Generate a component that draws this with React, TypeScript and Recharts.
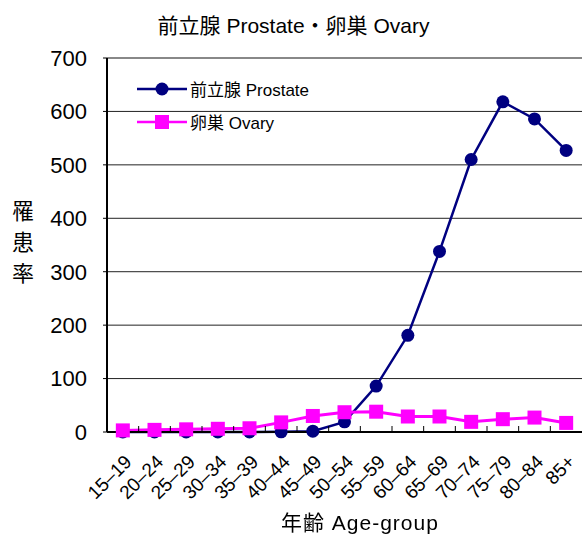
import React from "react";
import {
  LineChart,
  Line,
  XAxis,
  YAxis,
  CartesianGrid,
  ReferenceLine,
} from "recharts";

const ageGroups = [
  "15–19", "20–24", "25–29", "30–34", "35–39", "40–44", "45–49", "50–54",
  "55–59", "60–64", "65–69", "70–74", "75–79", "80–84", "85+",
];
const prostate = [0, 0, 0, 0, 0, 0.3, 1.5, 19, 86, 181, 338, 510, 618, 586, 527];
const ovary = [3, 4, 5, 6, 7, 18, 30, 37, 38, 29, 29, 19, 24, 27, 17];
const yTicks = [0, 100, 200, 300, 400, 500, 600, 700];

const data = ageGroups.map((age, i) => ({ age, prostate: prostate[i], ovary: ovary[i] }));

const FONT = "'Liberation Sans', 'Noto Sans CJK JP', sans-serif";
const NAVY = "#000080";
const MAGENTA = "#FF00FF";
const W = 587;
const H = 534;
const X_H = 70;
const Y_W = 60;
const M = { top: 58, right: 5, bottom: 102 - X_H, left: 107 - Y_W };
const band = (W - 107 - M.right) / ageGroups.length;

const AgeTick = (props: any) => {
  const { x, y, payload, index } = props;
  return (
    <g>
      {index < ageGroups.length - 1 && (
        <line x1={x + band / 2} x2={x + band / 2} y1={y - 8} y2={y - 14} stroke="#000" strokeWidth={1} />
      )}
      <text
        x={0}
        y={0}
        transform={`translate(${x + 10},${y + 23}) rotate(-45)`}
        textAnchor="end"
        fontSize={19}
        fontFamily={FONT}
        fill="#000"
      >
        {payload.value}
      </text>
    </g>
  );
};

const SquareDot = (props: any) => {
  const { cx, cy } = props;
  if (cx == null || cy == null) return null;
  return <rect x={cx - 7} y={cy - 7} width={14} height={14} fill={MAGENTA} />;
};

const legendItems = [
  { name: "前立腺 Prostate", color: NAVY, square: false },
  { name: "卵巣 Ovary", color: MAGENTA, square: true },
];

export default function App() {
  return (
    <div style={{ position: "fixed", top: 0, left: 0, width: W, height: H, background: "#fff", fontFamily: FONT }}>
      <LineChart width={W} height={H} data={data} margin={M}>
        <CartesianGrid vertical={false} stroke="#222" strokeWidth={1} />
        <XAxis
          dataKey="age"
          interval={0}
          padding={{ left: band / 2, right: band / 2 }}
          axisLine={{ stroke: "#000", strokeWidth: 2 }}
          tickLine={false}
          tick={<AgeTick />}
          height={X_H}
        />
        <YAxis
          domain={[0, 700]}
          ticks={yTicks}
          interval={0}
          width={Y_W}
          axisLine={{ stroke: "#000", strokeWidth: 2 }}
          tickLine={{ stroke: "#000" }}
          tickSize={4}
          tickMargin={16}
          tick={{ fill: "#000", fontSize: 22, fontFamily: FONT }}
        />
        <YAxis
          yAxisId="r"
          orientation="right"
          domain={[0, 700]}
          width={0}
          tick={false}
          tickLine={false}
          axisLine={{ stroke: "#888", strokeWidth: 2 }}
        />
        <ReferenceLine y={700} stroke="#888" strokeWidth={2} />
        <Line
          dataKey="prostate"
          stroke={NAVY}
          strokeWidth={2.5}
          dot={{ r: 6.5, fill: NAVY, stroke: NAVY, strokeWidth: 0 }}
          isAnimationActive={false}
        />
        <Line
          dataKey="ovary"
          stroke={MAGENTA}
          strokeWidth={3}
          dot={<SquareDot />}
          isAnimationActive={false}
        />
      </LineChart>
      <div style={{ position: "absolute", top: 9, left: 0, width: W, textAlign: "center", fontSize: 21, color: "#000" }}>
        前立腺 Prostate・卵巣 Ovary
      </div>
      <div
        style={{
          position: "absolute",
          left: 11,
          top: 196,
          width: 24,
          fontSize: 22,
          lineHeight: "31px",
          color: "#000",
          textAlign: "center",
        }}
      >
        罹<br />患<br />率
      </div>
      <div style={{ position: "absolute", top: 506, left: 281, fontSize: 21, letterSpacing: 1, color: "#000" }}>
        年齢 Age-group
      </div>
      <div style={{ position: "absolute", top: 72, left: 137, fontSize: 17, color: "#000" }}>
        {legendItems.map((it) => (
          <div key={it.name} style={{ display: "flex", alignItems: "center", height: 33 }}>
            <svg width={50} height={16} style={{ marginRight: 3 }}>
              <line x1={0} x2={50} y1={8} y2={8} stroke={it.color} strokeWidth={2.5} />
              {it.square ? (
                <rect x={18} y={1} width={14} height={14} fill={it.color} />
              ) : (
                <circle cx={25} cy={8} r={6.5} fill={it.color} />
              )}
            </svg>
            <span>{it.name}</span>
          </div>
        ))}
      </div>
    </div>
  );
}
